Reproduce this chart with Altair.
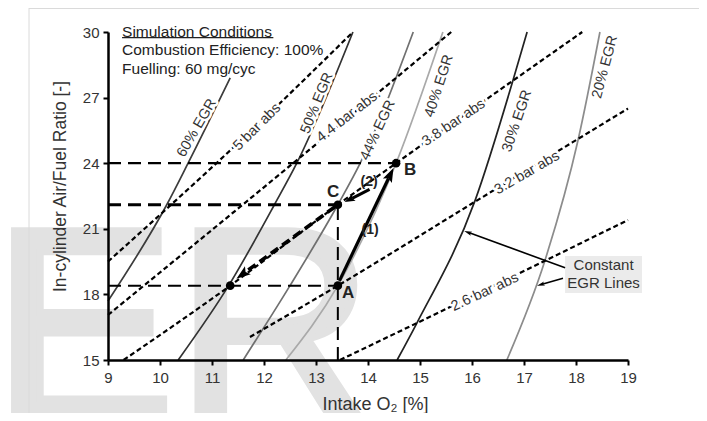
import math
import altair as alt
import pandas as pd

FONT = "Liberation Sans"

# ---------------- data ----------------
x_ticks = [9, 10, 11, 12, 13, 14, 15, 16, 17, 18, 19]
y_ticks = [15, 18, 21, 24, 27, 30]

# constant EGR lines (intake O2 [%], AFR [-])
egr_names = ["60% EGR", "50% EGR", "44% EGR", "40% EGR", "30% EGR", "20% EGR"]
egr_o2 = [
    [9.0, 10.13, 10.54, 11.35],
    [10.35, 11.32, 12.2, 12.63, 13.71],
    [11.6, 12.5, 13.42, 13.85, 14.87],
    [12.42, 13.42, 14.54, 15.44],
    [14.56, 14.94, 16.06, 16.79, 17.06],
    [16.67, 17.40, 18.04, 18.46],
]
egr_afr = [
    [17.7, 22.1, 24.0, 27.9],
    [15.0, 18.4, 22.1, 24.0, 30.0],
    [15.0, 18.4, 22.1, 24.0, 30.0],
    [15.0, 18.4, 24.0, 30.0],
    [15.0, 16.69, 22.3, 27.8, 30.0],
    [15.0, 19.53, 25.06, 30.0],
]
egr_colors = ["#3c3c3c", "#333333", "#707070", "#a9a9a9", "#222222", "#8c8c8c"]
egr_label_o2 = [10.71, 13.02, 14.19, 15.37, 16.87, 18.56]
egr_label_afr = [25.61, 26.75, 25.5, 27.53, 25.93, 28.4]
egr_label_rot = [60, 68, 65, 72, 71, 75]

# constant intake pressure lines
p_names = ["5 bar abs", "4.4 bar abs.", "3.8 bar abs", "3.2 bar abs", "2.6 bar abs"]
p_o2 = [
    [9.0, 11.87, 13.71],
    [9.0, 12.56, 15.6],
    [9.3, 11.35, 13.42, 14.54, 18.12],
    [11.73, 13.42, 16.1, 19.0],
    [13.46, 14.94, 19.0],
]
p_afr = [
    [19.5, 25.75, 30.0],
    [17.06, 24.0, 30.0],
    [15.0, 18.4, 22.1, 24.0, 30.0],
    [16.05, 18.4, 22.3, 26.5],
    [15.0, 16.69, 21.4],
]
p_label_o2 = [11.87, 13.63, 15.65, 17.06, 16.25]
p_label_afr = [25.65, 26.16, 25.84, 23.55, 18.1]
p_label_rot = [45, 38, 34, 30, 25]

# operating points
state_names = ["A", "B", "C", "D"]
state_o2 = [13.42, 14.54, 13.42, 11.35]
state_afr = [18.4, 24.0, 22.1, 18.4]

letter_text = ["A", "B", "C"]
letter_o2 = [13.62, 14.81, 13.33]
letter_afr = [18.06, 23.69, 22.68]
step_text = ["(1)", "(2)"]
step_o2 = [14.04, 14.02]
step_afr = [20.94, 23.14]

# arrows: start / tip
arrow1 = [(13.45, 18.62), (14.49, 23.78)]
arrow2 = [(14.03, 22.8), (13.55, 22.22)]
arrow3 = [(13.36, 22.0), (11.47, 18.72)]
legend_arrow1 = [(17.79, 19.22), (15.85, 20.9)]
legend_arrow2 = [(17.75, 18.74), (17.25, 18.4)]

cond_text = ["Simulation Conditions", "Combustion Efficiency: 100%", "Fuelling: 60 mg/cyc"]
cond_o2 = 9.27
cond_afr = [30.02, 29.17, 28.33]
underline_o2 = [9.27, 12.18]
underline_afr = 29.74

box_o2 = (17.79, 19.27)
box_afr = (18.06, 19.76)
box_text = ["Constant", "EGR Lines"]
box_text_o2 = 18.53
box_text_afr = [19.34, 18.52]

# ---------------- layout ----------------
W, H = 520, 328
PAD = {"left": 100, "top": 24, "right": 71, "bottom": 53}
PXX = W / (x_ticks[-1] - x_ticks[0])
PXY = H / (y_ticks[-1] - y_ticks[0])

xsc = alt.Scale(domain=[x_ticks[0], x_ticks[-1]], nice=False, zero=False)
ysc = alt.Scale(domain=[y_ticks[0], y_ticks[-1]], nice=False, zero=False)
XT = "Intake O₂ [%]"
YT = "In-cylinder Air/Fuel Ratio [-]"
common_axis = dict(grid=False, domainColor="black", domainWidth=2.5, tickColor="black",
                   tickWidth=2, tickSize=5, labelFont=FONT, labelFontSize=15,
                   labelColor="#333333", labelFlush=False, titleFont=FONT,
                   titleFontWeight="normal", titleColor="#333333", zindex=1)
xaxis = alt.Axis(values=x_ticks, labelPadding=5, titleFontSize=18, titleX=267, titleY=49,
                 titleBaseline="alphabetic", titleAlign="center", **common_axis)
yaxis = alt.Axis(values=y_ticks, labelPadding=4, titleFontSize=17.5, titleX=-48, titleY=154,
                 titleBaseline="middle", titleAlign="center", titleAngle=270, **common_axis)


def xy(**extra):
    d = dict(x=alt.X("o2:Q", scale=xsc, axis=xaxis, title=XT),
             y=alt.Y("afr:Q", scale=ysc, axis=yaxis, title=YT))
    d.update(extra)
    return d


def long_df(names, xs, ys):
    rows = []
    for n, xl, yl in zip(names, xs, ys):
        for i, (a, b) in enumerate(zip(xl, yl)):
            rows.append({"name": n, "o2": a, "afr": b, "i": i})
    return pd.DataFrame(rows)


def seg_df(p, q):
    return pd.DataFrame({"o2": [p[0], q[0]], "afr": [p[1], q[1]], "i": [0, 1]})


def arrow(start, tip, width, head_size, dash=None, head_w=0.7):
    dxp = (tip[0] - start[0]) * PXX
    dyp = (tip[1] - start[1]) * PXY
    L = math.hypot(dxp, dyp)
    ux, uy = dxp / L, dyp / L
    back = math.sqrt(head_size) * 0.8
    end = (tip[0] - ux * back / PXX, tip[1] - uy * back / PXY)
    ang = math.degrees(math.atan2(dxp, dyp)) % 360
    kw = dict(color="black", strokeWidth=width, strokeCap="butt")
    if dash:
        kw["strokeDash"] = dash
    shaft = alt.Chart(seg_df(start, end)).mark_line(**kw).encode(**xy(order="i:O"))
    head_df = pd.DataFrame({"o2": [tip[0]], "afr": [tip[1]], "ang": [ang]})
    path = f"M0,0L{head_w},2L0,1.6L-{head_w},2Z"
    head = alt.Chart(head_df).mark_point(shape=path, filled=True, color="black",
                                         size=head_size, opacity=1, strokeWidth=0).encode(
        **xy(angle=alt.Angle("ang:Q", scale=None)))
    return [shaft, head]


layers = []

# watermark letters and faint frame (decoration, pixel placed)
deco = pd.DataFrame({"t": ["ER"]})
layers.append(alt.Chart(deco).mark_text(font=FONT, fontSize=275, color="#e2e2e2",
                                        stroke="#e2e2e2", strokeWidth=7, strokeJoin="miter",
                                        align="left", baseline="alphabetic").encode(
    x=alt.value(-116), y=alt.value(388), text="t:N"))
layers.append(alt.Chart(deco).mark_rule(color="#dadada", strokeWidth=1).encode(
    x=alt.value(-79), y=alt.value(-24), y2=alt.value(400)))
layers.append(alt.Chart(deco).mark_rule(color="#dadada", strokeWidth=1).encode(
    x=alt.value(-79), x2=alt.value(600), y=alt.value(-23.5)))

# legend box
box = pd.DataFrame({"o2": [box_o2[0]], "o2e": [box_o2[1]], "afr": [box_afr[0]], "afre": [box_afr[1]]})
layers.append(alt.Chart(box).mark_rect(color="#ebebeb").encode(
    **xy(x2=alt.X2("o2e", title=XT), y2=alt.Y2("afre", title=YT))))

# EGR lines
egr_df = long_df(egr_names, egr_o2, egr_afr)
layers.append(alt.Chart(egr_df).mark_line(strokeWidth=1.7, interpolate="monotone").encode(
    **xy(detail="name:N", order="i:O",
         color=alt.Color("name:N", scale=alt.Scale(domain=egr_names, range=egr_colors), legend=None))))

# pressure lines
p_df = long_df(p_names, p_o2, p_afr)
layers.append(alt.Chart(p_df).mark_line(color="black", strokeWidth=2.2, strokeDash=[5, 3],
                                        interpolate="monotone").encode(
    **xy(detail="name:N", order="i:O")))

# dashed guide lines
A, B, C, D = [(a, b) for a, b in zip(state_o2, state_afr)]
x_start = x_ticks[0]
y_start = y_ticks[0]
guides = [
    (seg_df((x_start, B[1]), B), 2.2),
    (seg_df((x_start, C[1]), C), 3.2),
    (seg_df((x_start, A[1]), A), 2.0),
    (seg_df((A[0], y_start), C), 2.0),
]
for g, w in guides:
    layers.append(alt.Chart(g).mark_line(color="black", strokeWidth=w, strokeDash=[13, 7],
                                         strokeCap="butt").encode(**xy(order="i:O")))

# line labels (with white halo)
lab = pd.DataFrame({
    "t": egr_names + p_names,
    "o2": egr_label_o2 + p_label_o2,
    "afr": egr_label_afr + p_label_afr,
    "ang": [(360 - r) % 360 for r in egr_label_rot + p_label_rot],
})
lab_enc = xy(text="t:N", angle=alt.Angle("ang:Q", scale=None))
layers.append(alt.Chart(lab).mark_text(font=FONT, fontSize=14.5, fill="white", stroke="white",
                                       strokeWidth=5, strokeJoin="round").encode(**lab_enc))
layers.append(alt.Chart(lab).mark_text(font=FONT, fontSize=14.5, color="#333333").encode(**lab_enc))

# arrows
layers += arrow(arrow1[0], arrow1[1], 3.2, 200)
layers += arrow(arrow2[0], arrow2[1], 3.0, 110)
layers += arrow(arrow3[0], arrow3[1], 3.6, 200, dash=[9, 5])
layers += arrow(legend_arrow1[0], legend_arrow1[1], 1.6, 60, head_w=0.55)
layers += arrow(legend_arrow2[0], legend_arrow2[1], 1.6, 60, head_w=0.55)

# operating points
st = pd.DataFrame({"name": state_names, "o2": state_o2, "afr": state_afr})
layers.append(alt.Chart(st).mark_circle(color="black", size=75, opacity=1).encode(**xy()))

# point letters and step numbers
let = pd.DataFrame({"t": letter_text, "o2": letter_o2, "afr": letter_afr})
layers.append(alt.Chart(let).mark_text(font=FONT, fontSize=17, fontWeight="bold", color="#222222").encode(
    **xy(text="t:N")))
stp = pd.DataFrame({"t": step_text, "o2": step_o2, "afr": step_afr})
layers.append(alt.Chart(stp).mark_text(font=FONT, fontSize=14, fontWeight="bold", color="#222222").encode(
    **xy(text="t:N")))

# simulation conditions block
cond = pd.DataFrame({"t": cond_text, "o2": [cond_o2] * 3, "afr": cond_afr})
layers.append(alt.Chart(cond).mark_text(font=FONT, fontSize=15.5, color="#222222", align="left",
                                        baseline="middle").encode(**xy(text="t:N")))
ul = pd.DataFrame({"o2": underline_o2, "afr": [underline_afr] * 2, "i": [0, 1]})
layers.append(alt.Chart(ul).mark_line(color="#222222", strokeWidth=1.2).encode(**xy(order="i:O")))

# legend box text
bt = pd.DataFrame({"t": box_text, "o2": [box_text_o2] * 2, "afr": box_text_afr})
layers.append(alt.Chart(bt).mark_text(font=FONT, fontSize=15, color="#333333", baseline="middle").encode(
    **xy(text="t:N")))

chart = alt.layer(*layers).properties(
    width=W, height=H, padding=PAD, autosize=alt.AutoSizeParams(type="none"),
    background="white",
).configure_view(strokeWidth=0)

chart.save("out.html", embed_options={"renderer": "svg", "actions": False})
